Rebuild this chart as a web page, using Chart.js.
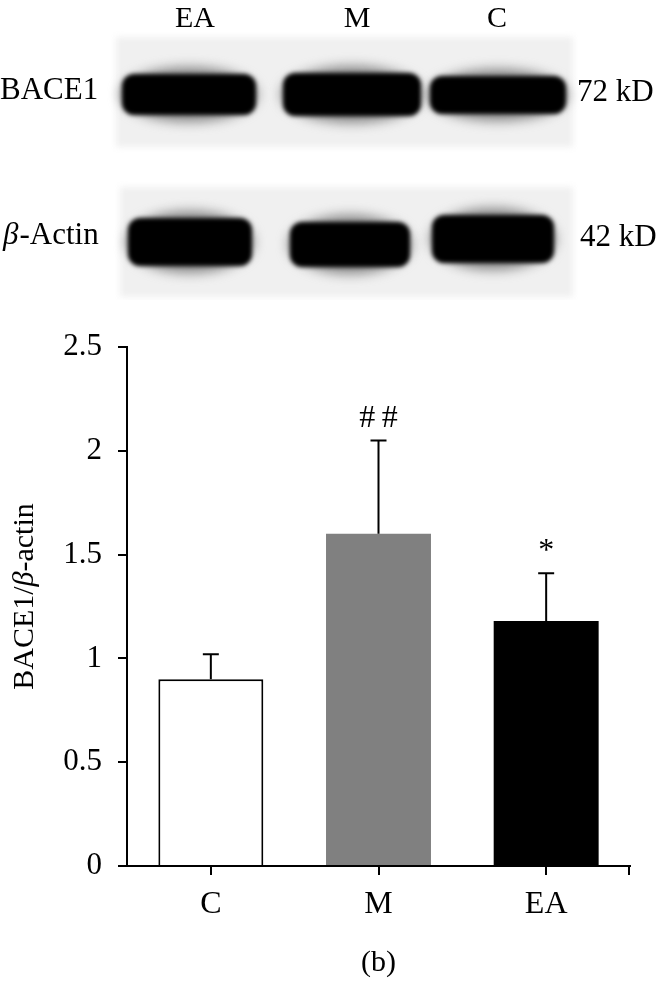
<!DOCTYPE html>
<html>
<head>
<meta charset="utf-8">
<script src="https://cdn.jsdelivr.net/npm/chart.js@4/dist/chart.umd.min.js"></script>
<style>
  html, body { margin: 0; padding: 0; background: #fff; }
  #wrap { position: relative; width: 661px; height: 985px; }
  #blot { position: absolute; left: 0; top: 0; }
  #chart { position: absolute; left: 0; top: 300px; }
</style>
</head>
<body>
<div id="wrap">
  <canvas id="blot" width="661" height="300"></canvas>
  <canvas id="chart" width="661" height="685"></canvas>
</div>
<script>
// data
const categories = ['C', 'M', 'EA'];
const means = [0.90, 1.60, 1.18];
const errUp = [0.12, 0.45, 0.23];
const marks = ['', '##', '*'];
const barColors = ['#ffffff', '#808080', '#000000'];
const yTickStep = 0.5;
const yMax = 2.5;

// blot panel labels
const laneLabels = ['EA', 'M', 'C'];
const blotRows = ['BACE1', 'β-Actin'];
const blotSizes = ['72 kD', '42 kD'];

const SERIF = '"Liberation Serif", "DejaVu Serif", serif';

// ---- western blot (just a picture, drawn with plain canvas) ----
function drawBlot() {
  const c = document.getElementById('blot');
  const g = c.getContext('2d');
  g.fillStyle = '#fff';
  g.fillRect(0, 0, 661, 300);

  g.fillStyle = '#000';
  g.font = '30px ' + SERIF;
  g.textAlign = 'center';
  g.textBaseline = 'middle';
  const laneX = [195, 357, 497];
  laneLabels.forEach((l, i) => g.fillText(l, laneX[i], 19));

  // membranes
  const panels = [
    { top: 37, bottom: 147, left: 116, right: 573,
      bands: [[122, 256, 74, 115], [283, 421, 73, 116], [430, 566, 76, 114]] },
    { top: 187, bottom: 297, left: 120, right: 573,
      bands: [[128, 252, 218, 266], [290, 410, 222, 267], [432, 554, 215, 263]] }
  ];
  panels.forEach(p => {
    g.save();
    g.filter = 'blur(3px)';
    g.fillStyle = '#f0f0f0';
    g.fillRect(p.left, p.top, p.right - p.left, p.bottom - p.top);
    g.restore();
    p.bands.forEach(b => {
      const [x0, x1, y0, y1] = b;
      g.save();
      g.filter = 'blur(6px)';
      g.fillStyle = '#888';
      g.beginPath();
      g.ellipse((x0 + x1) / 2, (y0 + y1) / 2, (x1 - x0) / 2 + 2, (y1 - y0) / 2 + 7, 0, 0, Math.PI * 2);
      g.fill();
      g.restore();
      g.save();
      g.filter = 'blur(2px)';
      g.fillStyle = '#000';
      g.beginPath();
      g.roundRect(x0, y0, x1 - x0, y1 - y0, 12);
      g.fill();
      g.restore();
    });
  });

  // row and size labels
  g.font = '31px ' + SERIF;
  g.textAlign = 'left';
  g.fillText(blotRows[0], 0, 91);
  g.font = 'italic 31px ' + SERIF;
  g.fillText('β', 3, 236);
  const bw = g.measureText('β').width;
  g.font = '31px ' + SERIF;
  g.fillText(blotRows[1].slice(1), 3 + bw + 1, 236);
  g.fillText(blotSizes[0], 577, 93);
  g.fillText(blotSizes[1], 580, 238);
}
drawBlot();

// ---- bar chart ----
const errorBars = {
  id: 'errorBars',
  afterDatasetsDraw(chart) {
    const { ctx, scales: { x, y } } = chart;
    ctx.save();
    ctx.strokeStyle = '#000';
    ctx.lineWidth = 2;
    ctx.fillStyle = '#000';
    ctx.font = '32px ' + SERIF;
    ctx.textAlign = 'center';
    ctx.textBaseline = 'alphabetic';
    means.forEach((m, i) => {
      const cx = x.getPixelForValue(i);
      const yTop = y.getPixelForValue(m);
      const yCap = y.getPixelForValue(m + errUp[i]);
      ctx.beginPath();
      ctx.moveTo(cx, yTop);
      ctx.lineTo(cx, yCap);
      ctx.moveTo(cx - 8, yCap);
      ctx.lineTo(cx + 8, yCap);
      ctx.stroke();
      // spaced out a little like the original
      if (marks[i]) ctx.fillText(marks[i].split('').join('\u2009'), cx, yCap - 13);
    });
    // end tick on the x axis
    const ca = chart.chartArea;
    ctx.beginPath();
    ctx.moveTo(ca.right - 1, ca.bottom);
    ctx.lineTo(ca.right - 1, ca.bottom + 9);
    ctx.stroke();

    // y title with italic beta
    const parts = [['BACE1/', ''], ['β', 'italic '], ['-actin', '']];
    let total = 0;
    parts.forEach(p => { ctx.font = p[1] + '30px ' + SERIF; total += ctx.measureText(p[0]).width; });
    ctx.translate(33, (ca.top + ca.bottom) / 2 - 10);
    ctx.rotate(-Math.PI / 2);
    ctx.textAlign = 'left';
    let px = -total / 2;
    parts.forEach(p => {
      ctx.font = p[1] + '30px ' + SERIF;
      ctx.fillText(p[0], px, 0);
      px += ctx.measureText(p[0]).width;
    });
    ctx.restore();
  }
};

new Chart(document.getElementById('chart').getContext('2d'), {
  type: 'bar',
  data: {
    labels: categories,
    datasets: [{
      data: means,
      backgroundColor: barColors,
      borderColor: '#000',
      borderWidth: [2, 0, 0],
      borderSkipped: 'bottom',
      barPercentage: 0.626,
      categoryPercentage: 1
    }]
  },
  options: {
    responsive: false,
    animation: false,
    layout: { padding: { top: 47, right: 31, left: 0, bottom: 0 } },
    plugins: { legend: { display: false }, tooltip: { enabled: false } },
    scales: {
      x: {
        offset: true,
        grid: { display: true, drawOnChartArea: false, offset: false, tickLength: 9, color: '#000', lineWidth: 2 },
        border: { color: '#000', width: 2 },
        ticks: { color: '#000', font: { family: SERIF, size: 32 }, padding: 10 },
        title: { display: true, text: '(b)', color: '#000', font: { family: SERIF, size: 30 }, padding: { top: 10, bottom: 4 } },
        afterFit(scale) { scale.height = 119; }
      },
      y: {
        min: 0,
        max: yMax,
        grid: { display: true, drawOnChartArea: false, tickLength: 9, color: '#000', lineWidth: 2 },
        border: { color: '#000', width: 2 },
        ticks: {
          stepSize: yTickStep, color: '#000', font: { family: SERIF, size: 31 }, padding: 16,
          callback: v => String(Number(v))
        },
        afterFit(scale) { scale.width = 127; }
      }
    }
  },
  plugins: [errorBars]
});
</script>
</body>
</html>
